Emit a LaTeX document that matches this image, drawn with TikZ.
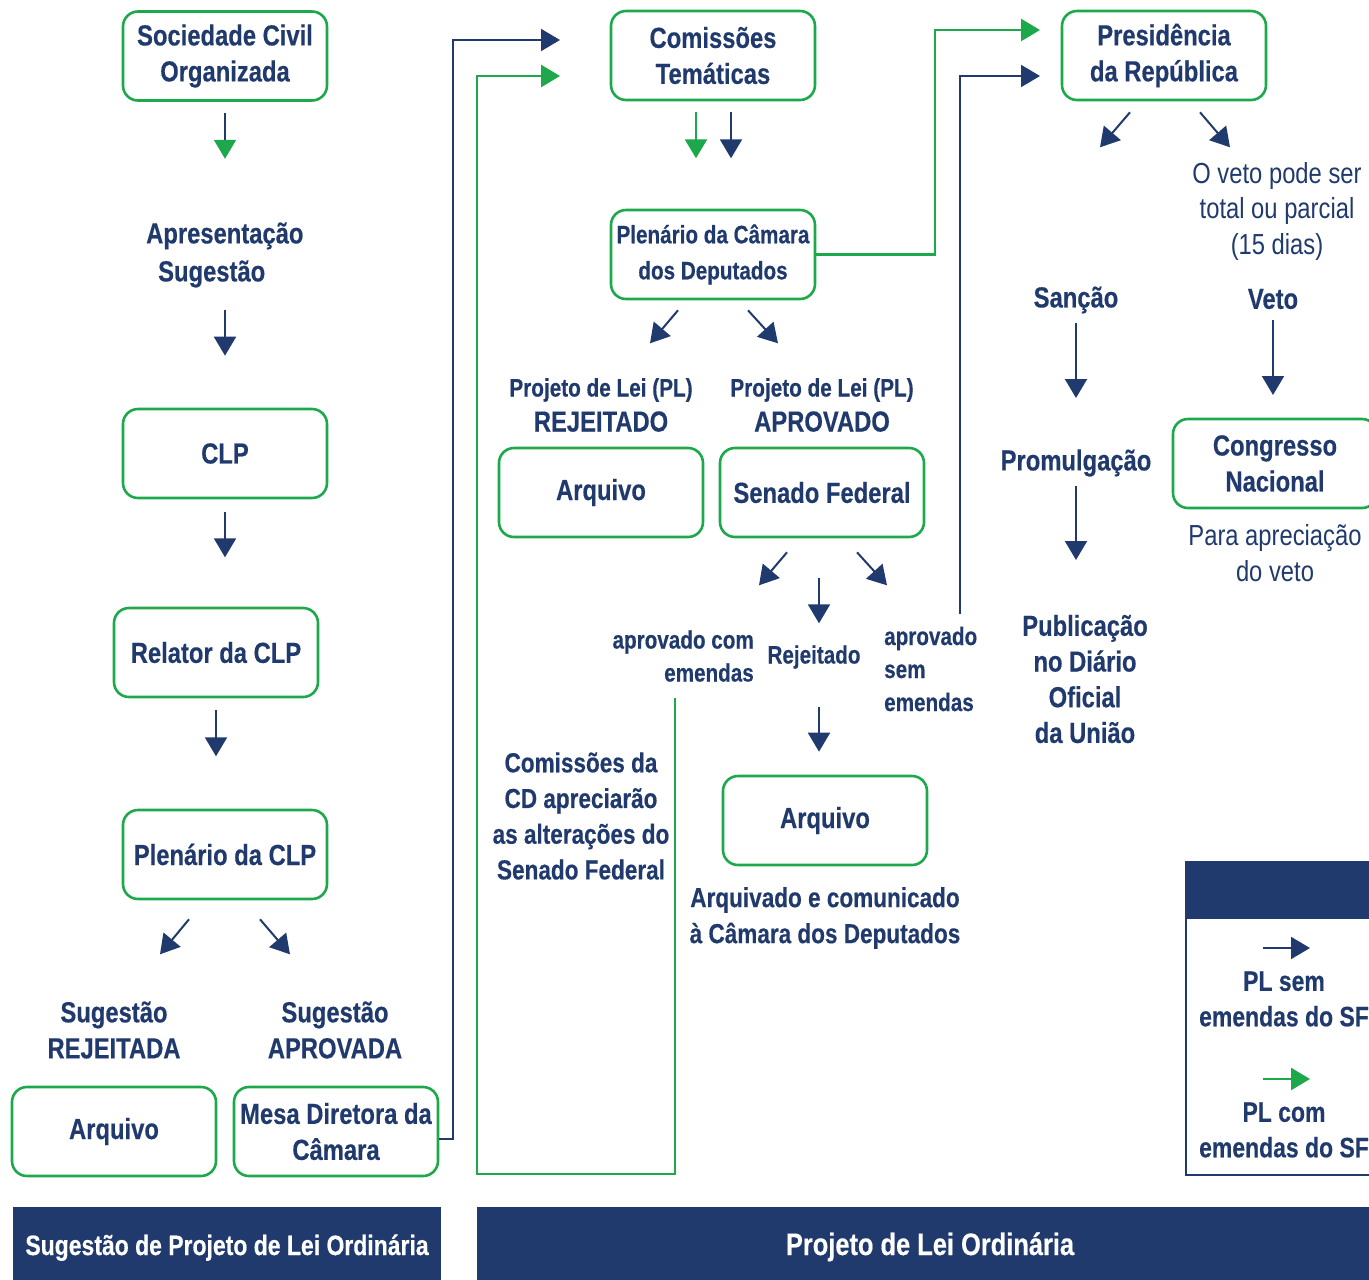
\documentclass[tikz,border=0pt]{standalone}
\usepackage{fontspec}
\setmainfont[FakeStretch=0.82, BoldFeatures={FakeBold=0.4}]{Liberation Sans}
\usetikzlibrary{arrows.meta,calc}
\definecolor{navy}{RGB}{32,58,110}
\definecolor{grn}{RGB}{29,168,75}
\tikzset{
  box/.style={draw=grn, line width=2.6pt, rounded corners=15pt, minimum width=204pt, minimum height=89pt,
    align=center, text=navy, font=\bfseries\fontsize{29}{36}\selectfont, inner sep=2pt},
  lbl/.style={text=navy, font=\bfseries\fontsize{29}{36}\selectfont, align=center, inner sep=0pt},
  sm/.style={text=navy, font=\bfseries\fontsize{25.2}{33}\selectfont, inner sep=0pt},
  rg/.style={text=navy, font=\fontsize{29}{35.5}\selectfont, align=center, inner sep=0pt},
  bar/.style={fill=navy, text=white, font=\bfseries\fontsize{28}{30}\selectfont, inner sep=0pt,
    text height=23pt, text depth=0pt, minimum height=73pt},
  nv/.style={draw=navy, line width=2pt, -{Triangle[width=22pt,length=19pt]}},
  gr/.style={draw=grn, line width=2.6pt, -{Triangle[width=22pt,length=19pt]}},
  nvg/.style={draw=navy, line width=2pt, -{Triangle[width=22pt,length=19pt,color=grn]}},
}
\begin{document}
\begin{tikzpicture}[x=1pt,y=-1pt]
\clip (0,0) rectangle (1369,1280);
% ---- left column: sugestão
\node[box] (soc) at (225,56) {Sociedade Civil\\Organizada};
\node[lbl, font=\bfseries\fontsize{29}{38}\selectfont, align=left, anchor=west] (apr) at (146,255) {Apresentação\\\hspace*{12pt}Sugestão};
\node[box] (clp) at (225,453.5) {CLP};
\node[box] (rel) at (216,652.5) {Relator da CLP};
\node[box] (pcl) at (225,854.5) {Plenário da CLP};
\node[lbl] (sugr) at (114,1030) {Sugestão\\REJEITADA};
\node[lbl] (suga) at (335,1030) {Sugestão\\APROVADA};
\node[box] (arq1) at (114,1131.5) {Arquivo};
\node[box] (mesa) at (336,1131.5) {Mesa Diretora da\\Câmara};

\draw[nvg] (soc.south) ++(0,11) -- ++(0,46);
\draw[nv] (clp.north) ++(0,-98) -- ++(0,46);
\draw[nv] (clp.south) ++(0,13) -- ++(0,45);
\draw[nv] (rel.south) ++(0,12) -- ++(0,46);
\draw[nv] (pcl.south) ++(-36,19) -- ++(-29,35);
\draw[nv] (pcl.south) ++(35,19) -- ++(30,35);

% ---- middle: câmara
\node[box] (com) at (713,55.5) {Comissões\\Temáticas};
\node[box, font=\bfseries\fontsize{25.2}{36}\selectfont] (plc) at (713,254.5) {Plenário da Câmara\\dos Deputados};
\node[lbl, font=\bfseries\fontsize{29}{35}\selectfont] (plr) at (601,405) {{\fontsize{25.3}{35}\selectfont Projeto de Lei (PL)}\\REJEITADO};
\node[lbl, font=\bfseries\fontsize{29}{35}\selectfont] (pla) at (822,405) {{\fontsize{25.3}{35}\selectfont Projeto de Lei (PL)}\\APROVADO};
\node[box] (arq2) at (601,492.5) {Arquivo};
\node[box] (sen) at (822,492.5) {Senado Federal};
\node[sm, align=right, anchor=east] (apc) at (754,656) {aprovado com\\emendas};
\node[sm] (rej) at (814,657) {Rejeitado};
\node[sm, align=left, anchor=west] (aps) at (884,669) {aprovado\\sem\\emendas};
\node[lbl, font=\bfseries\fontsize{27.5}{35.7}\selectfont] (cd) at (581,816) {Comissões da\\CD apreciarão\\as alterações do\\Senado Federal};
\node[box] (arq3) at (825,820.5) {Arquivo};
\node[lbl, font=\bfseries\fontsize{27.5}{36}\selectfont] (arqc) at (825,918) {Arquivado e comunicado\\à Câmara dos Deputados};

\coordinate (cin1) at (560,40);
\coordinate (cin2) at (560,76);
\draw[nv] ($(mesa.east)+(0,7)$) -| (453,40) -- (cin1);
\coordinate (gst) at (675,698);
\draw[gr] (gst) |- (477,1174) |- (cin2);

\draw[gr] (com.south) ++(-17,11) -- ++(0,46);
\draw[nv] (com.south) ++(18,11) -- ++(0,46);
\draw[nv] (plc.south) ++(-35,10) -- ++(-28,33);
\draw[nv] (plc.south) ++(35,10) -- ++(30,33);
\draw[nv] (sen.south) ++(-35,14) -- ++(-28,33);
\draw[nv] (sen.south) ++(35,14) -- ++(30,33);
\draw[nv] (sen.south) ++(-3,40) -- ++(0,45);
\draw[nv] (arq3.north) ++(-6,-68) -- ++(0,45);

% ---- right: presidência
\node[box] (pres) at (1164,55.5) {Presidência\\da República};
\coordinate (cpr1) at (1040,30);
\coordinate (cpr2) at (1040,76);
\draw[gr] (plc.east) -| (935,30) -- (cpr1);
\coordinate (nst) at (960,614);
\draw[nv] (nst) |- (cpr2);

\draw[nv] (pres.south) ++(-34,11) -- ++(-30,35);
\draw[nv] (pres.south) ++(36,11) -- ++(30,35);
\node[rg] (vtx) at (1277,211) {O veto pode ser\\total ou parcial\\(15 dias)};
\node[lbl] (sanc) at (1076,300) {Sanção};
\node[lbl] (veto) at (1273,299) {Veto};
\node[lbl] (prom) at (1076,463) {Promulgação};
\node[lbl, font=\bfseries\fontsize{29}{35.7}\selectfont] (pub) at (1085,679) {Publicação\\no Diário\\Oficial\\da União};
\node[box] (cn) at (1275,463.5) {Congresso\\Nacional};
\node[rg] (para) at (1275,553) {Para apreciação\\do veto};

\draw[nv] (sanc.center) ++(0,23) -- ++(0,75);
\draw[nv] (veto.center) ++(0,21) -- ++(0,75);
\draw[nv] (prom.center) ++(0,23) -- ++(0,74);

% ---- legend
\draw[navy, line width=2pt] (1186,862) rectangle (1390,1175);
\fill[navy] (1186,862) rectangle (1390,919);
\coordinate (la1) at (1263,948);
\coordinate (la2) at (1310,948);
\coordinate (lb1) at (1263,1079);
\coordinate (lb2) at (1310,1079);
\draw[nv] (la1) -- (la2);
\draw[gr] (lb1) -- (lb2);
\node[lbl, font=\bfseries\fontsize{28}{35.5}\selectfont] (lsem) at (1284,999) {PL sem\\emendas do SF};
\node[lbl, font=\bfseries\fontsize{28}{35.5}\selectfont] (lcom) at (1284,1130) {PL com\\emendas do SF};

% ---- bottom bars
\node[bar, minimum width=428pt] (bar1) at (227,1243.5) {Sugestão de Projeto de Lei Ordinária};
\node[bar, minimum width=906pt, font=\bfseries\fontsize{31}{32}\selectfont] (bar2) at (930,1243.5) {Projeto de Lei Ordinária};
\end{tikzpicture}
\end{document}
